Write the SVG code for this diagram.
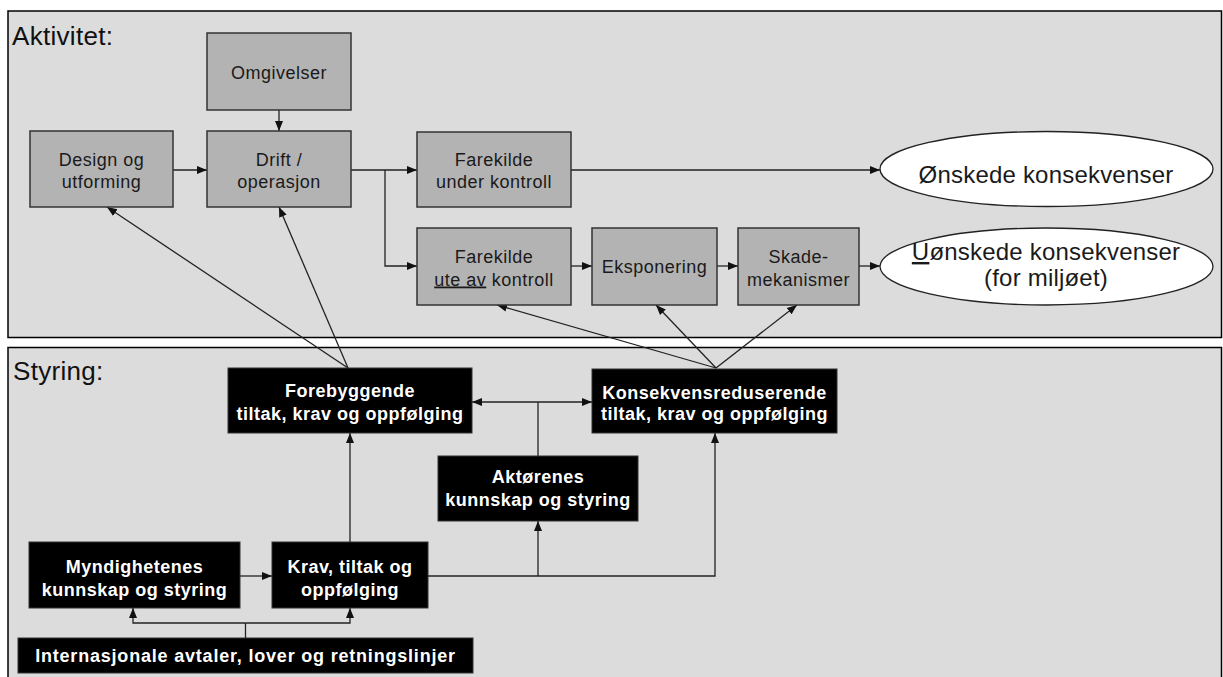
<svg xmlns="http://www.w3.org/2000/svg" width="1223" height="677" viewBox="0 0 1223 677">
<defs>
<style>
.panel{fill:#dcdcdc;stroke:#000;stroke-width:1.5}
.gbox{fill:#b3b3b3;stroke:#333;stroke-width:1.5}
.bbox{fill:#000;stroke:#333;stroke-width:1}
.ell{fill:#fff;stroke:#222;stroke-width:1.3}
.gt{font-family:"Liberation Sans",Arial,sans-serif;font-size:18px;fill:#1a1a1a;text-anchor:middle;letter-spacing:0.5px}
.et{font-family:"Liberation Sans",Arial,sans-serif;font-size:24px;fill:#1a1a1a;text-anchor:middle;letter-spacing:0.2px}
.bt{font-family:"Liberation Sans",Arial,sans-serif;font-size:18px;font-weight:bold;fill:#fff;text-anchor:middle;letter-spacing:0.5px}
.title{font-family:"Liberation Sans",Arial,sans-serif;font-size:26px;fill:#111;letter-spacing:0.3px}
.c{fill:none;stroke:#222;stroke-width:1.3}
.a{marker-end:url(#ah)}
.ab{marker-start:url(#ah);marker-end:url(#ah)}
</style>
<marker id="ah" viewBox="0 0 10 10" refX="10" refY="5" markerWidth="10" markerHeight="10" markerUnits="userSpaceOnUse" orient="auto-start-reverse">
<path d="M0,1 L10,5 L0,9 z" fill="#111"/>
</marker>
</defs>

<g id="panels">
<rect class="panel" x="8" y="11" width="1213.5" height="326.5"/>
<rect class="panel" x="8" y="347.5" width="1213.5" height="345"/>
<text class="title" x="12" y="45">Aktivitet:</text>
<text class="title" x="13" y="380">Styring:</text>
</g>

<g id="connectors">
<path class="c a" d="M279,110 V131"/>
<path class="c a" d="M173,170 H207"/>
<path class="c a" d="M351,170 H417"/>
<path class="c a" d="M385,170 V266 H417"/>
<path class="c a" d="M571,170 H880"/>
<path class="c a" d="M571,266 H592"/>
<path class="c a" d="M717,266 H738"/>
<path class="c a" d="M859,266 H880"/>
<path class="c a" d="M348,368 L107,207"/>
<path class="c a" d="M348,368 L279,207"/>
<path class="c a" d="M716,368 L497,305"/>
<path class="c a" d="M716,368 L656,305"/>
<path class="c a" d="M716,368 L797,305"/>
<path class="c ab" d="M472,402 H592"/>
<path class="c" d="M538,456 V402"/>
<path class="c a" d="M350,542 V433"/>
<path class="c a" d="M428,576 H715 V433"/>
<path class="c a" d="M538,576 V521"/>
<path class="c a" d="M240,576 H272"/>
<path class="c" d="M245.5,638 V623"/>
<path class="c a" d="M245.5,623 H133 V608"/>
<path class="c a" d="M245.5,623 H350 V608"/>
</g>

<g id="omgivelser">
<rect class="gbox" x="207" y="33" width="144" height="77"/>
<text class="gt" x="279" y="79">Omgivelser</text>
</g>
<g id="design">
<rect class="gbox" x="30" y="131" width="143" height="76"/>
<text class="gt" x="101.5" y="166">Design og</text>
<text class="gt" x="101.5" y="188">utforming</text>
</g>
<g id="drift">
<rect class="gbox" x="207" y="131" width="144" height="76"/>
<text class="gt" x="279" y="166">Drift /</text>
<text class="gt" x="279" y="188">operasjon</text>
</g>
<g id="farekilde-under">
<rect class="gbox" x="417" y="132" width="154" height="75"/>
<text class="gt" x="494" y="165.5">Farekilde</text>
<text class="gt" x="494" y="188">under kontroll</text>
</g>
<g id="farekilde-ute">
<rect class="gbox" x="417" y="228" width="154" height="77"/>
<text class="gt" x="494" y="262.5">Farekilde</text>
<text class="gt" x="494" y="285.5"><tspan text-decoration="underline">ute av</tspan> kontroll</text>
</g>
<g id="eksponering">
<rect class="gbox" x="592" y="228" width="125" height="77"/>
<text class="gt" x="654.5" y="273">Eksponering</text>
</g>
<g id="skade">
<rect class="gbox" x="738" y="228" width="121" height="77"/>
<text class="gt" x="798.5" y="262.5">Skade-</text>
<text class="gt" x="798.5" y="285.5">mekanismer</text>
</g>
<g id="onskede">
<ellipse class="ell" cx="1046.5" cy="169" rx="166.5" ry="37.5"/>
<text class="et" x="1046" y="183">Ønskede konsekvenser</text>
</g>
<g id="uonskede">
<ellipse class="ell" cx="1046.5" cy="266.5" rx="166.5" ry="38.5"/>
<text class="et" x="1046" y="260"><tspan text-decoration="underline">U</tspan>ønskede konsekvenser</text>
<text class="et" x="1046" y="286">(for miljøet)</text>
</g>

<g id="forebyggende">
<rect class="bbox" x="228" y="368" width="244" height="65"/>
<text class="bt" x="350" y="397">Forebyggende</text>
<text class="bt" x="350" y="420">tiltak, krav og oppfølging</text>
</g>
<g id="konsekvensreduserende">
<rect class="bbox" x="592" y="369" width="245" height="64"/>
<text class="bt" x="714.5" y="398.5">Konsekvensreduserende</text>
<text class="bt" x="714.5" y="420">tiltak, krav og oppfølging</text>
</g>
<g id="aktorenes">
<rect class="bbox" x="438" y="456" width="200" height="65"/>
<text class="bt" x="538" y="483">Aktørenes</text>
<text class="bt" x="538" y="506">kunnskap og styring</text>
</g>
<g id="myndighetenes">
<rect class="bbox" x="29" y="542" width="211" height="66"/>
<text class="bt" x="134.5" y="573">Myndighetenes</text>
<text class="bt" x="134.5" y="596">kunnskap og styring</text>
</g>
<g id="krav">
<rect class="bbox" x="272" y="542" width="156" height="66"/>
<text class="bt" x="350" y="573">Krav, tiltak og</text>
<text class="bt" x="350" y="596">oppfølging</text>
</g>
<g id="internasjonale">
<rect class="bbox" x="18" y="638" width="455" height="35"/>
<text class="bt" x="245.5" y="661.5" style="letter-spacing:0.8px">Internasjonale avtaler, lover og retningslinjer</text>
</g>
</svg>
